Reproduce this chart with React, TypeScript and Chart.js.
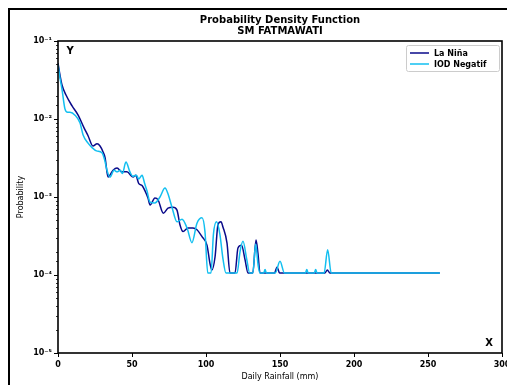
import React, { useEffect, useRef } from "react";
import { Chart, registerables } from "chart.js";

Chart.register(...registerables);

const titleLines = ["Probability Density Function", "SM FATMAWATI"];
const xTitle = "Daily Rainfall (mm)";
const yTitle = "Probability";
const seriesNames = ["La Niña", "IOD Negatif"];
const seriesColors = ["#0a0a8a", "#12bff0"];

const laNinaX = [0, 1.3, 2.7, 5.4, 9.5, 13.5, 17.6, 20.3, 23.6, 26.4, 28.4, 30.4, 31.8, 33.8, 37.2, 39.9, 43.2, 46.6, 50.7, 52.5, 54.5, 56.8, 58.8, 60.8, 62.2, 65.5, 67.6, 71.2, 74.3, 77.7, 80.4, 82.4, 84.5, 87.8, 91.2, 93.9, 97.3, 100.7, 102.7, 104, 106.1, 108.1, 110.1, 111.5, 114.2, 116.2, 119.6, 121.6, 124, 126.4, 128.4, 131.6, 133.8, 135.1, 136.5, 146.3, 148, 149.7, 180.3, 182, 183.7, 258];
const laNinaY = [0.052, 0.037, 0.0273, 0.0203, 0.0147, 0.0113, 0.0077, 0.0061, 0.0045, 0.0048, 0.0045, 0.0038, 0.0032, 0.0018, 0.0022, 0.00235, 0.0021, 0.0021, 0.0018, 0.0019, 0.0015, 0.0014, 0.0012, 0.00097, 0.00079, 0.00097, 0.00092, 0.00062, 0.00072, 0.00074, 0.00068, 0.00044, 0.00036, 0.0004, 0.0004, 0.00038, 0.00031, 0.00024, 0.00014, 0.000116, 0.00017, 0.00044, 0.00048, 0.00041, 0.000257, 0.000106, 0.000106, 0.000222, 0.00024, 0.000156, 0.000106, 0.000106, 0.00028, 0.00019, 0.000106, 0.000106, 0.000127, 0.000106, 0.000106, 0.000116, 0.000106, 0.000106];

const iodX = [0, 1.3, 2.7, 4.7, 6.5, 8.1, 11.5, 14.9, 16.9, 20.3, 23, 26, 29.7, 31.5, 33.1, 35.1, 37.9, 39.9, 42, 43.5, 45.9, 48.6, 50.5, 53, 54.5, 56.8, 58.5, 60.1, 62.2, 65.5, 68.9, 72.3, 74.3, 77, 80.4, 83.8, 87.2, 90.5, 93.9, 97.3, 99.3, 101.2, 103.4, 105, 107.1, 109.3, 111.5, 113.5, 121, 123, 125, 127.5, 129.5, 131.7, 133.5, 135.3, 136.5, 139, 139.9, 140.8, 146.8, 150, 153, 167.2, 168.1, 169, 173.2, 174.1, 175, 179.8, 182.2, 184.6, 258];
const iodY = [0.05, 0.034, 0.024, 0.0135, 0.0122, 0.0122, 0.0112, 0.0089, 0.0063, 0.0049, 0.0043, 0.0039, 0.0037, 0.003, 0.0022, 0.0018, 0.0022, 0.0021, 0.0022, 0.002, 0.0028, 0.0021, 0.00185, 0.0019, 0.0017, 0.0019, 0.0015, 0.0012, 0.00086, 0.00084, 0.001, 0.0013, 0.0011, 0.00074, 0.00048, 0.00052, 0.0004, 0.00026, 0.00046, 0.00054, 0.00036, 0.000106, 0.000106, 0.00033, 0.00048, 0.00034, 0.00016, 0.000106, 0.000106, 0.0002, 0.00027, 0.00016, 0.000106, 0.000106, 0.00025, 0.00013, 0.000106, 0.000106, 0.000118, 0.000106, 0.000106, 0.00015, 0.000106, 0.000106, 0.000118, 0.000106, 0.000106, 0.000118, 0.000106, 0.000106, 0.00021, 0.000106, 0.000106];

const xMin = 0;
const xMax = 300;
const xStep = 50;
const yMin = 1e-5;
const yMax = 1e-1;

const SUP: Record<string, string> = { "-": "⁻", "0": "⁰", "1": "¹", "2": "²", "3": "³", "4": "⁴", "5": "⁵", "6": "⁶", "7": "⁷", "8": "⁸", "9": "⁹" };
const isDecade = (v: number) => {
  const l = Math.log10(v);
  return Math.abs(l - Math.round(l)) < 1e-6;
};
const decadeLabel = (v: number) => {
  const e = String(Math.round(Math.log10(v)));
  return "10" + e.split("").map((c) => SUP[c] || c).join("");
};

const FONT = "'DejaVu Sans', sans-serif";

const decorPlugin = {
  id: "decor",
  afterDatasetsDraw(chart: any) {
    const { ctx, chartArea } = chart;
    const { left, right, top, bottom } = chartArea;
    ctx.save();
    // minor y ticks
    const ys = chart.scales.y;
    ctx.strokeStyle = "#000";
    ctx.lineWidth = 0.8;
    ys.ticks.forEach((t: any) => {
      if (!isDecade(t.value)) {
        const py = Math.round(ys.getPixelForValue(t.value)) + 0.5;
        ctx.beginPath();
        ctx.moveTo(left - 2, py);
        ctx.lineTo(left, py);
        ctx.stroke();
      }
    });
    // frame
    ctx.lineWidth = 1.6;
    ctx.strokeStyle = "#000";
    ctx.strokeRect(left, top, right - left, bottom - top);
    // title
    ctx.fillStyle = "#000";
    ctx.textAlign = "center";
    ctx.textBaseline = "middle";
    ctx.font = "bold 10px " + FONT;
    const cx = (left + right) / 2;
    ctx.fillText(titleLines[0], cx, 20);
    ctx.fillText(titleLines[1], cx, 31);
    // corner letters
    ctx.font = "bold 10px " + FONT;
    ctx.fillText("Y", left + 12, top + 10);
    ctx.fillText("X", right - 13, bottom - 10);
    // legend
    const lx = 406, ly = 45, lw = 93, lh = 26;
    ctx.fillStyle = "rgba(255,255,255,0.85)";
    ctx.strokeStyle = "#cccccc";
    ctx.lineWidth = 1;
    ctx.beginPath();
    if (ctx.roundRect) ctx.roundRect(lx + 0.5, ly + 0.5, lw, lh, 2);
    else ctx.rect(lx + 0.5, ly + 0.5, lw, lh);
    ctx.fill();
    ctx.stroke();
    ctx.textAlign = "left";
    ctx.font = "bold 8px " + FONT;
    chart.data.datasets.forEach((ds: any, i: number) => {
      const ry = ly + 8 + i * 11;
      ctx.strokeStyle = ds.borderColor;
      ctx.lineWidth = 1.5;
      ctx.beginPath();
      ctx.moveTo(lx + 4, ry);
      ctx.lineTo(lx + 23, ry);
      ctx.stroke();
      ctx.fillStyle = "#000";
      ctx.fillText(ds.label, lx + 28, ry + 0.5);
    });
    ctx.restore();
  },
};

export default function App() {
  const ref = useRef<HTMLCanvasElement | null>(null);
  useEffect(() => {
    if (!ref.current) return;
    const chart = new Chart(ref.current, {
      type: "line",
      data: {
        datasets: [
          {
            label: seriesNames[0],
            data: laNinaX.map((x, i) => ({ x, y: laNinaY[i] })),
            borderColor: seriesColors[0],
            backgroundColor: seriesColors[0],
            borderWidth: 1.5,
            pointRadius: 0,
            cubicInterpolationMode: "monotone",
            order: 1,
          },
          {
            label: seriesNames[1],
            data: iodX.map((x, i) => ({ x, y: iodY[i] })),
            borderColor: seriesColors[1],
            backgroundColor: seriesColors[1],
            borderWidth: 1.5,
            pointRadius: 0,
            cubicInterpolationMode: "monotone",
            order: 0,
          },
        ],
      },
      options: {
        animation: false,
        responsive: false,
        devicePixelRatio: 1,
        layout: { padding: { top: 41, right: 5, left: 0, bottom: 0 } },
        plugins: { legend: { display: false }, title: { display: false }, tooltip: { enabled: false } },
        scales: {
          x: {
            type: "linear",
            min: xMin,
            max: xMax,
            ticks: {
              stepSize: xStep,
              color: "#000",
              padding: 3,
              maxRotation: 0,
              font: { family: FONT, size: 8, weight: "bold" },
            },
            grid: { drawOnChartArea: false, tickLength: 4, color: "#000", tickColor: "#000" },
            border: { display: false },
            title: {
              display: true,
              text: xTitle,
              color: "#000",
              font: { family: FONT, size: 8 },
              padding: { top: 0, bottom: 3 },
            },
            afterFit(scale: any) {
              scale.height = 32;
              scale.paddingLeft = 0;
              scale.paddingRight = 0;
            },
          },
          y: {
            type: "logarithmic",
            min: yMin,
            max: yMax,
            ticks: {
              autoSkip: false,
              color: "#000",
              padding: 2,
              font: { family: FONT, size: 8, weight: "bold" },
              callback: (v: any) => (isDecade(Number(v)) ? decadeLabel(Number(v)) : ""),
            },
            grid: {
              drawOnChartArea: false,
              tickLength: 4,
              tickColor: (c: any) => (c.tick && isDecade(c.tick.value) ? "#000" : "rgba(0,0,0,0)"),
            },
            border: { display: false },
            title: {
              display: true,
              text: yTitle,
              color: "#000",
              font: { family: FONT, size: 8 },
              padding: { top: 16, bottom: 0 },
            },
            afterFit(scale: any) {
              scale.width = 58;
              scale.paddingTop = 0;
              scale.paddingBottom = 0;
            },
          },
        },
      },
      plugins: [decorPlugin],
    } as any);
    return () => chart.destroy();
  }, []);

  return (
    <div style={{ position: "fixed", left: 0, top: 0, width: 507, height: 385, overflow: "hidden", background: "#fff" }}>
      <div
        style={{
          position: "absolute",
          left: 8,
          top: 8,
          width: 600,
          height: 500,
          border: "2px solid #000",
          boxSizing: "border-box",
        }}
      />
      <canvas ref={ref} width={507} height={385} style={{ position: "absolute", left: 0, top: 0, width: 507, height: 385 }} />
    </div>
  );
}
